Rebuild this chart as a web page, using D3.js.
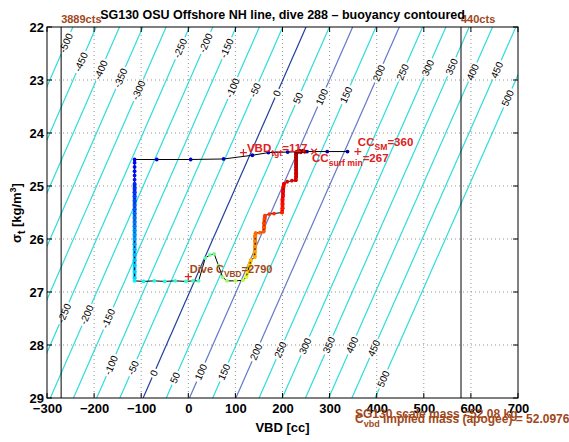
<!DOCTYPE html>
<html><head><meta charset="utf-8">
<script src="https://cdn.jsdelivr.net/npm/d3@7"></script>
<style>
body{margin:0;background:#fff;}
svg text{font-family:"Liberation Sans",Arial,Helvetica,sans-serif;}
</style></head><body>
<svg id="chart" width="569" height="442"></svg>
<script>
// ---------------- data ----------------
const xTicks = [-300,-200,-100,0,100,200,300,400,500,600,700];
const yTicks = [22,23,24,25,26,27,28,29];
const contourLevels = [-500,-450,-400,-350,-300,-250,-200,-150,-100,-50,0,50,100,150,200,250,300,350,400,450,500];
// VBD [cc] where each buoyancy contour crosses sigma=22 and sigma=29
const contourVbdAt22 = [-245,-195.5,-146,-96.5,-47,2.5,52,101.5,151,200.5,250,299.5,349,398.5,448,497.5,547,596.5,646,695.5,745];
const contourVbdAt29 = [-588.5,-539.3,-490,-440.8,-391.5,-342.3,-293,-243.8,-194.5,-145.3,-96,-46.8,2.5,51.8,101,150.3,199.5,248.8,298,347.3,396.5];
// sigma position of the inline contour labels (upper and lower rows)
const labelSigmaUpper = [22.30,22.66,22.81,22.96,23.19,22.40,22.30,22.40,23.15,23.19,23.25,23.34,23.32,23.28,22.87,22.85,22.77,22.75,22.85,22.81,23.34];
const labelSigmaLower = [null,null,null,null,null,27.40,27.43,27.50,28.38,28.43,28.53,28.62,28.51,28.51,28.13,28.09,28.02,28.00,28.00,28.06,28.64];
const contourStyle = {"0":"#213f9c","100":"#6378c9","200":"#6378c9"};

// VBD limit lines
const vbdLimits = [-270, 579];
const vbdLimitLabels = ["3889cts","440cts"];

// dive trajectory, [VBD cc, sigma_t]
const descentSurface = [[338,24.35],[295,24.35],[252,24.35],[211,24.36],[170,24.37],[136,24.42],[75,24.49],[5,24.50],[-67,24.50],[-114,24.50]];
const descentUpperSigma = [24.56,24.64,24.72,24.80,24.88];
const descentLowerSigma = [24.96,25.04,25.12,25.20,25.28,25.36,25.44,25.52,25.60,25.68,25.76,25.84,25.92,26.00,26.10,26.20,26.30,26.40,26.50,26.62,26.74];
const descentVbd = -114;
const apogeePump = [[-114,26.79],[-95,26.80],[-72,26.79],[-50,26.80],[-28,26.79],[-5,26.80],[10,26.79],[22,26.79]];
const apogeeWiggle = [[36,26.36],[46,26.30],[55,26.28],[64,26.50],[73,26.72],[82,26.79],[100,26.79],[116,26.78]];
const climb = [[123,26.72],[126,26.62],[130,26.50],[133,26.40],[141,26.34],[141,26.24],[142,26.14],[142,26.04],[142,25.95],[143,25.89],
  [152,25.88],[160,25.86],[161,25.78],[161,25.70],[162,25.62],[163,25.56],[172,25.53],[182,25.52],[199,25.50],[200,25.42],
  [200,25.34],[200,25.26],[201,25.18],[201,25.10],[202,25.02],[203,24.96],[210,24.92],[220,24.90],[228,24.89],[229,24.82],
  [229,24.76],[229,24.70],[229,24.64],[229,24.58],[229,24.52],[229,24.46],[229,24.41],[229,24.37],[232,24.35],[236,24.34],
  [240,24.35],[244,24.34],[247,24.35],[238,24.36],[233,24.35],[230,24.36]];

// annotation points
const vbdTgt = [117,24.37];
const ccSM = [360,24.35];
const ccSurfMin = [267,24.35];
const diveC = [0,26.71];

// jet colormap stops
const jetPos = [0,0.125,0.375,0.625,0.875,1];
const jetCol = ["#00008f","#0000ff","#00ffff","#ffff00","#ff0000","#800000"];

// ---------------- drawing ----------------
const svg = d3.select("#chart");
const L=47,R=518,T=27,B=398;
const x = d3.scaleLinear().domain([-300,700]).range([L,R]);
const y = d3.scaleLinear().domain([22,29]).range([T,B]);
const jet = d3.scaleLinear().domain(jetPos).range(jetCol).interpolate(d3.interpolateRgb);
const brown = "#a0481a", red = "#e02020";
const font = '"Liberation Sans",Arial,Helvetica,sans-serif';

svg.append("rect").attr("width",569).attr("height",442).attr("fill","#fff");
const defs = svg.append("defs");
defs.append("clipPath").attr("id","plotClip").append("rect")
  .attr("x",L).attr("y",T).attr("width",R-L).attr("height",B-T);

// grid
const grid = svg.append("g").attr("stroke","#7a7a7a").attr("stroke-width",0.8).attr("stroke-dasharray","1,3");
grid.selectAll(".gx").data(xTicks.slice(1,-1)).join("line")
  .attr("x1",d=>x(d)).attr("x2",d=>x(d)).attr("y1",T).attr("y2",B);
grid.selectAll(".gy").data(yTicks.slice(1,-1)).join("line")
  .attr("y1",d=>y(d)).attr("y2",d=>y(d)).attr("x1",L).attr("x2",R);

// contour labels (measure first for mask)
const ang = Math.atan2(y(22)-y(29), x(contourVbdAt22[10])-x(contourVbdAt29[10]))*180/Math.PI;
const labelData = [];
contourLevels.forEach((lev,i)=>{
  [labelSigmaUpper[i],labelSigmaLower[i]].forEach(s=>{
    if(s==null) return;
    const f=(s-22)/7;
    const v=contourVbdAt22[i]+(contourVbdAt29[i]-contourVbdAt22[i])*f;
    labelData.push({lev, px:x(v), py:y(s)});
  });
});
const mask = defs.append("mask").attr("id","labelMask").attr("maskUnits","userSpaceOnUse")
  .attr("x",0).attr("y",0).attr("width",569).attr("height",442);
mask.append("rect").attr("width",569).attr("height",442).attr("fill","#fff");

const labG = svg.append("g").attr("clip-path","url(#plotClip)");
labelData.forEach(d=>{
  const g = labG.append("g").attr("transform",`translate(${d.px},${d.py}) rotate(${ang})`);
  const t = g.append("text").attr("text-anchor","middle").attr("dy","0.35em")
    .attr("font-size",10).attr("fill","#000").text(String(d.lev));
  const w = t.node().getComputedTextLength();
  mask.append("rect").attr("x",-w/2-2).attr("y",-5).attr("width",w+4).attr("height",10)
    .attr("fill","#000").attr("transform",`translate(${d.px},${d.py}) rotate(${ang})`);
});

// contour lines
const cg = svg.insert("g", () => labG.node()).attr("clip-path","url(#plotClip)")
  .append("g").attr("mask","url(#labelMask)");
contourLevels.forEach((lev,i)=>{
  cg.append("line")
    .attr("x1",x(contourVbdAt22[i])).attr("y1",y(22))
    .attr("x2",x(contourVbdAt29[i])).attr("y2",y(29))
    .attr("stroke",contourStyle[String(lev)]||"#2fdcdc")
    .attr("stroke-width",1.2);
});

// VBD limit lines
vbdLimits.forEach((v,i)=>{
  svg.append("line").attr("x1",x(v)).attr("x2",x(v)).attr("y1",T).attr("y2",B)
    .attr("stroke","#000").attr("stroke-width",1);
  svg.append("text").attr("x",x(v)).attr("y",23).attr("font-size",11).attr("font-weight","bold")
    .attr("fill",brown).text(vbdLimitLabels[i]);
});

// trajectory
const segs = [
  {pts:descentSurface, t0:0.0, t1:0.10, thick:false, pow:1},
  {pts:descentUpperSigma.map(s=>[descentVbd,s]), t0:0.11, t1:0.15, thick:false, pow:1},
  {pts:descentLowerSigma.map(s=>[descentVbd,s]), t0:0.16, t1:0.34, thick:true, pow:1},
  {pts:apogeePump, t0:0.36, t1:0.45, thick:false, pow:1},
  {pts:apogeeWiggle, t0:0.46, t1:0.56, thick:false, pow:1},
  {pts:climb, t0:0.58, t1:1.0, thick:true, pow:0.5}
];
const all = [];
segs.forEach(sg=>{
  const n = sg.pts.length;
  const cs = d3.scalePow().exponent(sg.pow).domain([0,n-1]).range([sg.t0,sg.t1]);
  sg.pts.forEach((p,k)=>all.push({v:p[0],s:p[1],c:jet(cs(k)),thick:sg.thick}));
});
const tg = svg.append("g").attr("clip-path","url(#plotClip)");
// thick colored bands along near-vertical runs
for(let i=1;i<all.length;i++){
  const a=all[i-1], b=all[i];
  if(b.thick && a.thick && Math.abs(b.v-a.v)<5){
    tg.append("line").attr("x1",x(a.v)).attr("y1",y(a.s)).attr("x2",x(b.v)).attr("y2",y(b.s))
      .attr("stroke",b.c).attr("stroke-width",3.6).attr("stroke-linecap","round");
  }
}
tg.append("path").datum(all)
  .attr("d",d3.line().x(d=>x(d.v)).y(d=>y(d.s)))
  .attr("fill","none").attr("stroke","#000").attr("stroke-width",1);
tg.selectAll(".pt").data(all).join("circle")
  .attr("cx",d=>x(d.v)).attr("cy",d=>y(d.s)).attr("r",1.9).attr("fill",d=>d.c);

// markers
function plus(p,col){
  const cx=x(p[0]), cy=y(p[1]);
  svg.append("path").attr("d",`M${cx-3.5},${cy}H${cx+3.5}M${cx},${cy-3.5}V${cy+3.5}`)
    .attr("stroke",col).attr("stroke-width",1.2);
}
function cross(p,col){
  const cx=x(p[0]), cy=y(p[1]);
  svg.append("path").attr("d",`M${cx-2.8},${cy-2.8}L${cx+2.8},${cy+2.8}M${cx-2.8},${cy+2.8}L${cx+2.8},${cy-2.8}`)
    .attr("stroke",col).attr("stroke-width",1.2);
}
plus(vbdTgt,red); plus(ccSM,red); cross(ccSurfMin,red); plus(diveC,red);

function subText(px,py,main,sub,rest,col,fs){
  const t = svg.append("text").attr("x",px).attr("y",py).attr("fill",col)
    .attr("font-size",fs).attr("font-weight","bold");
  t.append("tspan").text(main);
  t.append("tspan").attr("dy",4).attr("font-size",fs*0.75).text(sub);
  t.append("tspan").attr("dy",-4).text(rest);
  return t;
}
subText(x(vbdTgt[0])+3.5, y(vbdTgt[1])-0.5, "VBD","tgt","=117", red, 11.5);
subText(x(ccSM[0]), y(ccSM[1])-6, "CC","SM","=360", red, 11.5);
subText(x(ccSurfMin[0])-2, y(ccSurfMin[1])+10.5, "CC","surf min","=267", red, 11.5);
subText(x(diveC[0])+1.5, y(diveC[1])-3.5, "Dive C","VBD","=2790", brown, 11);

// axes box + inward ticks
svg.append("rect").attr("x",L).attr("y",T).attr("width",R-L).attr("height",B-T)
  .attr("fill","none").attr("stroke","#000").attr("stroke-width",1);
const ax = svg.append("g").attr("stroke","#000").attr("stroke-width",1);
xTicks.forEach(v=>{
  ax.append("line").attr("x1",x(v)).attr("x2",x(v)).attr("y1",B).attr("y2",B-5);
  ax.append("line").attr("x1",x(v)).attr("x2",x(v)).attr("y1",T).attr("y2",T+5);
});
yTicks.forEach(v=>{
  ax.append("line").attr("y1",y(v)).attr("y2",y(v)).attr("x1",L).attr("x2",L+5);
  ax.append("line").attr("y1",y(v)).attr("y2",y(v)).attr("x1",R).attr("x2",R-5);
});
const fmt = d3.format("");
const xAxis = d3.axisBottom(x).tickValues(xTicks).tickSize(0).tickPadding(6).tickFormat(fmt);
const gx = svg.append("g").attr("transform",`translate(0,${B})`).call(xAxis);
gx.select(".domain").remove();
gx.selectAll("text").attr("font-size",13).attr("font-weight","bold").attr("fill","#000").style("font-family",font);
const yAxis = d3.axisLeft(y).tickValues(yTicks).tickSize(0).tickPadding(3).tickFormat(fmt);
const gy = svg.append("g").attr("transform",`translate(${L},0)`).call(yAxis);
gy.select(".domain").remove();
gy.selectAll("text").attr("font-size",13).attr("font-weight","bold").attr("fill","#000").style("font-family",font);

// title and axis labels
svg.append("text").attr("x",(L+R)/2).attr("y",19).attr("text-anchor","middle")
  .attr("font-size",12.5).attr("font-weight","bold").text("SG130 OSU Offshore NH line, dive 288 – buoyancy contoured");
svg.append("text").attr("x",(L+R)/2).attr("y",432).attr("text-anchor","middle")
  .attr("font-size",13).attr("font-weight","bold").text("VBD [cc]");
const yl = svg.append("text").attr("transform","translate(21,213) rotate(-90)").attr("text-anchor","middle")
  .attr("font-size",13).attr("font-weight","bold");
yl.append("tspan").text("σ");
yl.append("tspan").attr("dy",4).attr("font-size",10).text("t");
yl.append("tspan").attr("dy",-4).text(" [kg/m");
yl.append("tspan").attr("dy",-5).attr("font-size",9).text("3");
yl.append("tspan").attr("dy",5).text("]");

// mass texts (overlapping, as in the original figure)
svg.append("text").attr("x",355).attr("y",418).attr("fill",brown).attr("font-size",12).attr("font-weight","bold")
  .text("SG130 scale mass =52.08 kg");
subText(355, 423, "C","vbd"," implied mass (apogee) = 52.0976 kg", brown, 12);
</script>
</body></html>
